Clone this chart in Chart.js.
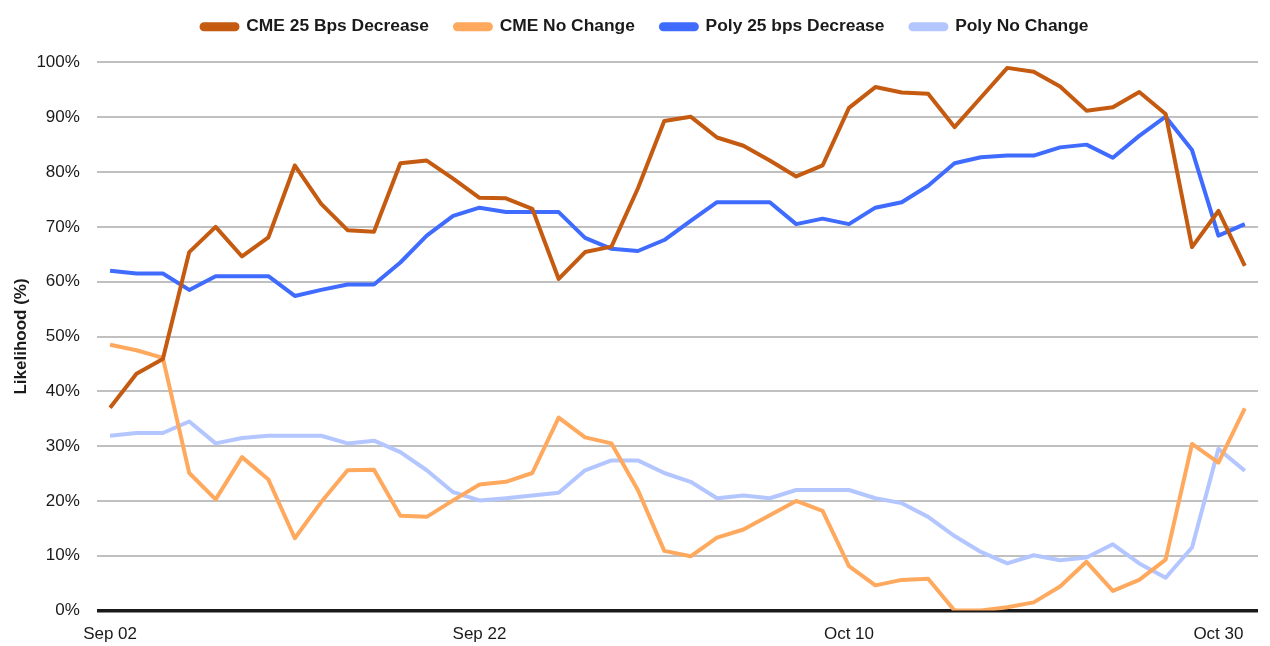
<!DOCTYPE html>
<html>
<head>
<meta charset="utf-8">
<script src="https://cdn.jsdelivr.net/npm/chart.js@4/dist/chart.umd.min.js"></script>
<style>
  html, body { margin: 0; padding: 0; background: #fff; }
  #wrap { width: 1270px; height: 646px; }
</style>
</head>
<body>
<div id="wrap"><canvas id="myChart"></canvas></div>
<script>
// category labels: only every 14th point carries a date in the original
const categories = ['Sep 02', '', '', '', '', '', '', '', '', '', '', '', '', '',
  'Sep 22', '', '', '', '', '', '', '', '', '', '', '', '', '',
  'Oct 10', '', '', '', '', '', '', '', '', '', '', '', '', '',
  'Oct 30', ''];

const cme25 = [37, 43.2, 45.9, 65.4, 70, 64.6, 68.1, 81.2, 74.2, 69.4, 69.1, 81.6, 82.1, 78.8,
  75.3, 75.2, 73.3, 60.5, 65.4, 66.4, 77, 89.3, 90.1, 86.3, 84.8, 82.1, 79.2, 81.2,
  91.7, 95.5, 94.5, 94.3, 88.2, 93.6, 99, 98.3, 95.6, 91.2, 91.8, 94.6, 90.6, 66.3,
  72.9, 62.9];
const cmeNoChange = [48.5, 47.5, 46.1, 25.1, 20.3, 28, 23.9, 13.2, 19.8, 25.6, 25.7, 17.3, 17.1, 20.1,
  23, 23.5, 25.1, 35.2, 31.6, 30.5, 22, 10.9, 9.9, 13.3, 14.8, 17.4, 20, 18.2,
  8.1, 4.6, 5.6, 5.8, 0, 0, 0.6, 1.5, 4.4, 8.9, 3.6, 5.6, 9.3, 30.4,
  27, 36.9];
const poly25 = [62, 61.5, 61.5, 58.5, 61, 61, 61, 57.4, 58.5, 59.5, 59.5, 63.5, 68.4, 72,
  73.5, 72.7, 72.7, 72.7, 68, 66, 65.6, 67.6, 71.1, 74.5, 74.5, 74.5, 70.5, 71.5,
  70.5, 73.5, 74.5, 77.5, 81.6, 82.7, 83, 83, 84.5, 85, 82.6, 86.6, 90.1, 84,
  68.4, 70.5];
const polyNoChange = [31.9, 32.4, 32.4, 34.5, 30.5, 31.5, 31.9, 31.9, 31.9, 30.5, 31, 28.9, 25.6, 21.6,
  20.1, 20.5, 21, 21.5, 25.6, 27.4, 27.4, 25.1, 23.5, 20.5, 21, 20.5, 22, 22,
  22, 20.5, 19.6, 17.1, 13.6, 10.7, 8.6, 10.1, 9.2, 9.7, 12.1, 8.6, 6, 11.5,
  29.5, 25.5];

const fontFamily = '"Liberation Sans", Arial, Helvetica, sans-serif';
const textColor = '#1a1a1a';

// extra room under the legend, then nudge the legend itself into place
const legendGap = {
  id: 'legendGap',
  beforeInit(chart) {
    const fit = chart.legend.fit;
    chart.legend.fit = function () {
      fit.bind(chart.legend)();
      this.height += 21;
    };
  },
  afterLayout(chart) {
    const lg = chart.legend;
    lg.left += 12;
    lg.right += 12;
    lg.top += 4;
  }
};

const ctx = document.getElementById('myChart').getContext('2d');

new Chart(ctx, {
  type: 'line',
  data: {
    labels: categories,
    datasets: [
      { label: 'CME 25 Bps Decrease', data: cme25, borderColor: '#c55a11', backgroundColor: '#c55a11' },
      { label: 'CME No Change', data: cmeNoChange, borderColor: '#ffa95e', backgroundColor: '#ffa95e' },
      { label: 'Poly 25 bps Decrease', data: poly25, borderColor: '#3f6bff', backgroundColor: '#3f6bff' },
      { label: 'Poly No Change', data: polyNoChange, borderColor: '#b3c6ff', backgroundColor: '#b3c6ff' }
    ]
  },
  options: {
    responsive: true,
    maintainAspectRatio: false,
    animation: false,
    layout: { padding: { top: -12, right: 12, bottom: -13, left: 8 } },
    elements: {
      line: { borderWidth: 4, tension: 0, borderJoinStyle: 'round' },
      point: { radius: 0, hoverRadius: 0 }
    },
    plugins: {
      tooltip: { enabled: false },
      legend: {
        position: 'top',
        labels: {
          boxWidth: 36,
          boxHeight: 5,
          useBorderRadius: true,
          borderRadius: 2.5,
          padding: 26,
          color: textColor,
          font: { family: fontFamily, size: 17.4, weight: 'bold' }
        }
      }
    },
    scales: {
      x: {
        offset: true,
        grid: { display: false, drawTicks: false },
        border: { display: false },
        ticks: {
          autoSkip: false,
          maxRotation: 0,
          padding: 14,
          color: textColor,
          font: { family: fontFamily, size: 17 }
        }
      },
      y: {
        min: 0,
        max: 100,
        border: { display: false },
        grid: {
          drawTicks: false,
          color: c => c.tick.value === 0 ? '#1a1a1a' : '#c0c0c0',
          lineWidth: c => c.tick.value === 0 ? 3.5 : 2
        },
        ticks: {
          stepSize: 10,
          padding: 17,
          color: textColor,
          font: { family: fontFamily, size: 17 },
          callback: v => v + '%'
        },
        title: {
          display: true,
          text: 'Likelihood (%)',
          color: textColor,
          padding: { top: 3, bottom: -12 },
          font: { family: fontFamily, size: 17, weight: 'bold' }
        }
      }
    }
  },
  plugins: [legendGap]
});
</script>
</body>
</html>
